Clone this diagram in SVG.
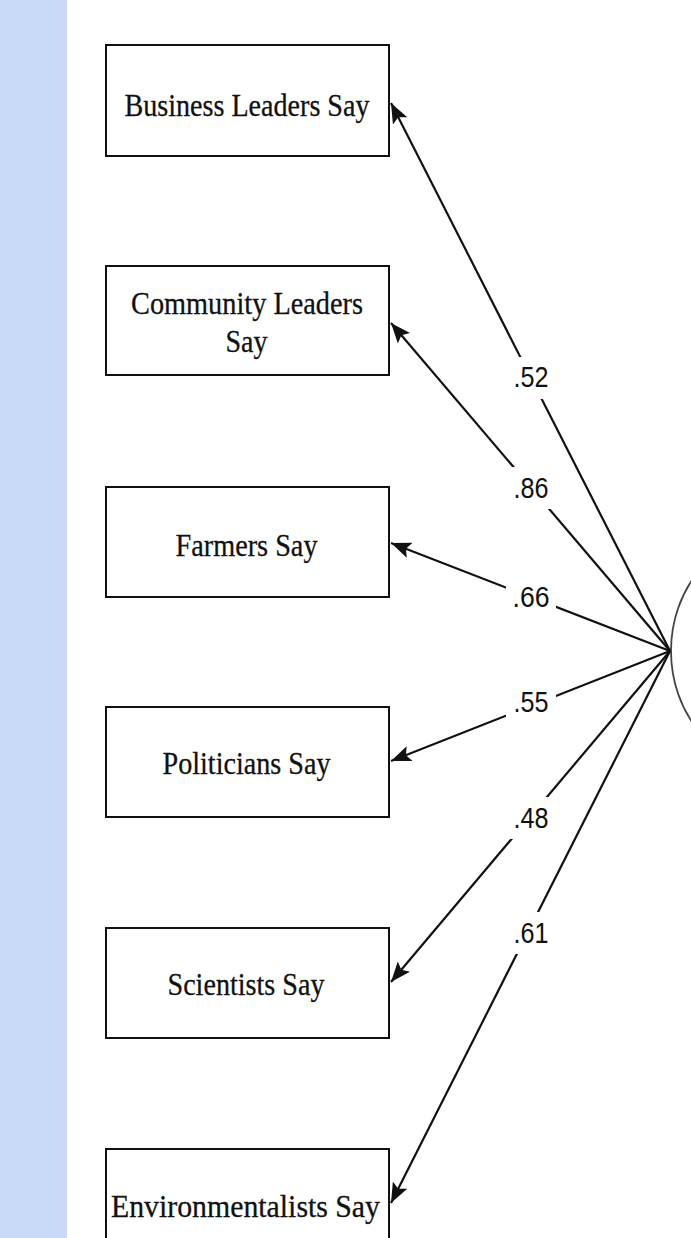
<svg xmlns="http://www.w3.org/2000/svg" width="691" height="1238" viewBox="0 0 691 1238">
<style>
.box{fill:#fff;stroke:#111;stroke-width:2}
.bt{font-family:"Liberation Serif","Times New Roman",serif;font-size:32px;fill:#111;stroke:#111;stroke-width:0.3;text-anchor:middle}
.edge{stroke:#111;stroke-width:2.2;fill:none;marker-end:url(#ah)}
.lb{font-family:"Liberation Sans",Arial,sans-serif;font-size:29px;fill:#111;text-anchor:middle}
.lbg{fill:#fff}
</style>
<defs>
<marker id="ah" markerUnits="userSpaceOnUse" viewBox="0 0 20 16" refX="20" refY="8" markerWidth="20" markerHeight="16" orient="auto">
<path d="M0,0 L20,8 L0,16 L4,8 z" fill="#111"/>
</marker>
</defs>
<rect x="0" y="0" width="691" height="1238" fill="#fff"/>
<rect x="0" y="0" width="67" height="1238" fill="#c9daf8"/>
<g id="latent">
<ellipse cx="772" cy="651" rx="101" ry="116" fill="none" stroke="#444" stroke-width="1.8"/>
</g>
<g id="connectors">
<line class="edge" x1="670" y1="651" x2="391" y2="103"/>
<line class="edge" x1="670" y1="651" x2="391" y2="323"/>
<line class="edge" x1="670" y1="651" x2="391" y2="543"/>
<line class="edge" x1="670" y1="651" x2="391" y2="761"/>
<line class="edge" x1="670" y1="651" x2="391" y2="982"/>
<line class="edge" x1="670" y1="651" x2="391" y2="1203"/>
<rect class="lbg" x="508" y="357" width="46" height="42"/>
<text class="lb" x="531" y="387" textLength="35" lengthAdjust="spacingAndGlyphs">.52</text>
<rect class="lbg" x="508" y="467" width="46" height="42"/>
<text class="lb" x="531" y="498" textLength="35" lengthAdjust="spacingAndGlyphs">.86</text>
<rect class="lbg" x="506" y="576" width="50" height="42"/>
<text class="lb" x="531" y="607" textLength="37" lengthAdjust="spacingAndGlyphs">.66</text>
<rect class="lbg" x="506" y="681" width="50" height="42"/>
<text class="lb" x="531" y="712" textLength="35" lengthAdjust="spacingAndGlyphs">.55</text>
<rect class="lbg" x="508" y="797" width="46" height="42"/>
<text class="lb" x="531" y="828" textLength="35" lengthAdjust="spacingAndGlyphs">.48</text>
<rect class="lbg" x="508" y="912" width="46" height="42"/>
<text class="lb" x="531" y="943" textLength="35" lengthAdjust="spacingAndGlyphs">.61</text>
</g>
<g id="business">
<rect class="box" x="106" y="45" width="283" height="111"/>
<text class="bt" x="247" y="116" textLength="245" lengthAdjust="spacingAndGlyphs">Business Leaders Say</text>
</g>
<g id="community">
<rect class="box" x="106" y="266" width="283" height="109"/>
<text class="bt" x="247" y="314" textLength="232" lengthAdjust="spacingAndGlyphs">Community Leaders</text>
<text class="bt" x="246.5" y="352" textLength="42" lengthAdjust="spacingAndGlyphs">Say</text>
</g>
<g id="farmers">
<rect class="box" x="106" y="487" width="283" height="110"/>
<text class="bt" x="246.5" y="556" textLength="142" lengthAdjust="spacingAndGlyphs">Farmers Say</text>
</g>
<g id="politicians">
<rect class="box" x="106" y="707" width="283" height="110"/>
<text class="bt" x="246.5" y="774" textLength="168" lengthAdjust="spacingAndGlyphs">Politicians Say</text>
</g>
<g id="scientists">
<rect class="box" x="106" y="928" width="283" height="110"/>
<text class="bt" x="246" y="995" textLength="157" lengthAdjust="spacingAndGlyphs">Scientists Say</text>
</g>
<g id="environmentalists">
<rect class="box" x="106" y="1149" width="283" height="110"/>
<text class="bt" x="245.5" y="1217" textLength="269" lengthAdjust="spacingAndGlyphs">Environmentalists Say</text>
</g>
</svg>
